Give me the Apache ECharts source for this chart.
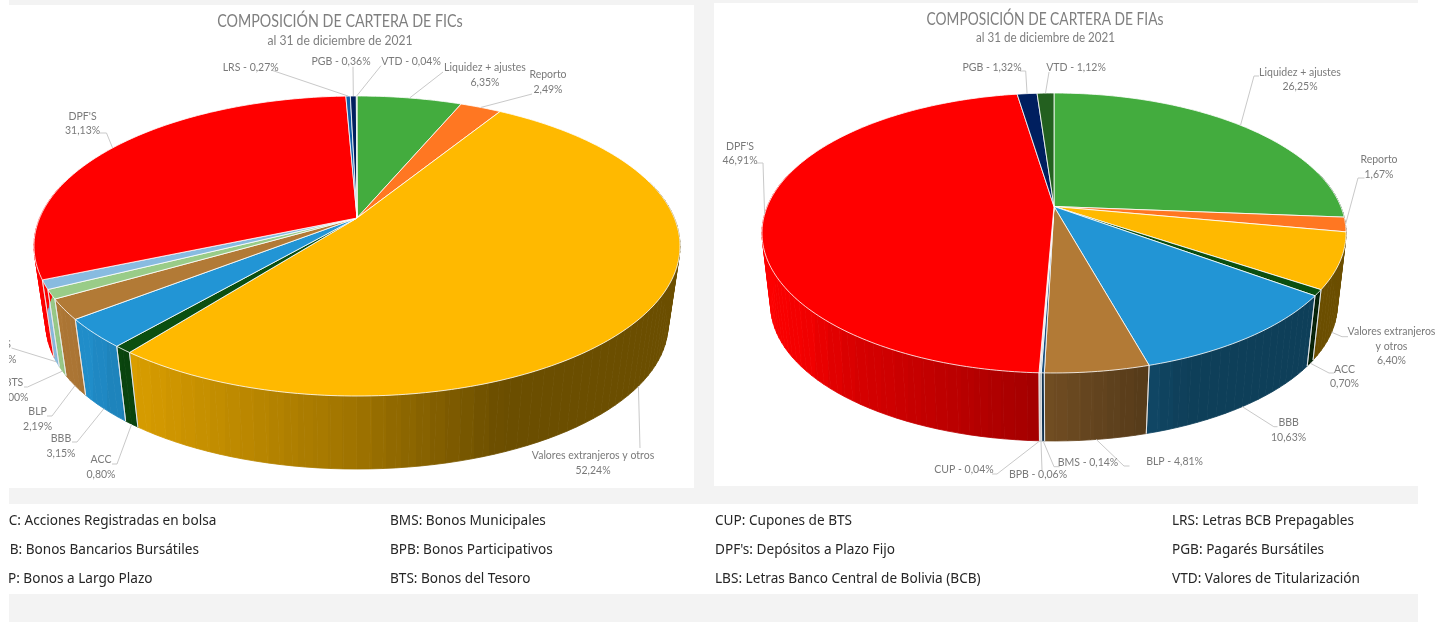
<!DOCTYPE html>
<html><head><meta charset="utf-8">
<style>html,body{margin:0;padding:0;background:#fff}#c{width:1447px;height:622px}</style>
<script src="https://cdn.jsdelivr.net/npm/echarts@6/dist/echarts.min.js"></script>
</head><body><div id="c"></div>
<script>
// ---- data ----
const ficCategories = ['Liquidez + ajustes','Reporto','Valores extranjeros y otros','ACC','BBB','BLP','BTS','LBS',"DPF'S",'LRS','PGB','VTD'];
const ficValues     = [6.35,2.49,52.24,0.80,3.15,2.19,1.00,1.00,31.13,0.27,0.36,0.04];
const fiaCategories = ['Liquidez + ajustes','Reporto','Valores extranjeros y otros','ACC','BBB','BLP','BMS','BPB','CUP',"DPF'S",'PGB','VTD'];
const fiaValues     = [26.25,1.67,6.40,0.70,10.63,4.81,0.14,0.06,0.04,46.91,1.32,1.12];
const glossaryCol1 = ['ACC: Acciones Registradas en bolsa','BBB: Bonos Bancarios Bursátiles','BLP: Bonos a Largo Plazo'];
const glossaryCol2 = ['BMS: Bonos Municipales','BPB: Bonos Participativos','BTS: Bonos del Tesoro'];
const glossaryCol3 = ['CUP: Cupones de BTS',"DPF's: Depósitos a Plazo Fijo",'LBS: Letras Banco Central de Bolivia (BCB)'];
const glossaryCol4 = ['LRS: Letras BCB Prepagables','PGB: Pagarés Bursátiles','VTD: Valores de Titularización'];

// ---- styles and layout ----
const sliceColors = {'Liquidez + ajustes':'#43AC3E','Reporto':'#FF7722','Valores extranjeros y otros':'#FFB900',ACC:'#0B4F10',BBB:'#2295D5',BLP:'#B27A36',BTS:'#99CC88',LBS:'#88BBE0',"DPF'S":'#FF0000',LRS:'#0F5FA8',PGB:'#001F5F',VTD:'#23601F',BMS:'#1B4F7F',BPB:'#8AA8C0',CUP:'#777777'};
const FONT='Lato', TXT='#7a7a7a', LINE='#c9c9c9';
const ficPie = {cx:357,cy:218,f:1700,g:775.6,d:5.357,s:0.963,h:79.6,categories:ficCategories,values:ficValues};
const fiaPie = {cx:1054,cy:206.5,f:1515,g:713,d:5.283,s:0.97,h:73,categories:fiaCategories,values:fiaValues};
// label layout: text centre, first line y, stacked or inline, leader points from text, anchor: rim (top edge) or ring (lower edge)
const ficLabels = {
 'Liquidez + ajustes':{x:485,y:68,pts:[[443,72]],a:'rim'},
 'Reporto':{x:548,y:75,pts:[[532,94]],a:'rim'},
 'Valores extranjeros y otros':{x:593,y:456,pts:[[640,448]],a:'ring'},
 ACC:{x:101,y:460,pts:[[112,464],[117,464]],a:'ring'},
 BBB:{x:61,y:439,pts:[[72,442],[77,442]],a:'ring'},
 BLP:{x:37.6,y:412,pts:[[47,416],[52,416]],a:'ring'},
 BTS:{x:14,y:383,pts:[[24,387],[27.5,387]],a:'ring'},
 LBS:{x:2,y:345,pts:[[11.5,348]],a:'ring'},
 "DPF'S":{x:82.6,y:116.7,pts:[[100,133],[106.5,133]],a:'rim'},
 LRS:{x:250.7,y:67.7,inline:true,pts:[[271,70]],a:'rim'},
 PGB:{x:341,y:61.7,inline:true,pts:[[353,66.7]],a:'rim'},
 VTD:{x:411,y:62,inline:true,pts:[[381,65.7]],a:'rim'}
};
const fiaLabels = {
 'Liquidez + ajustes':{x:1300,y:72.7,pts:[[1259,76],[1254,76]],a:'rim'},
 'Reporto':{x:1379,y:160,pts:[[1364.5,178],[1358,178]],a:'rim'},
 'Valores extranjeros y otros':{x:1391.5,y:332,wrap:['Valores extranjeros','y otros'],pts:[[1348,336.7],[1342,336.7]],a:'ring'},
 ACC:{x:1344.5,y:369.7,pts:[[1334,373],[1329,373]],a:'ring'},
 BBB:{x:1288.6,y:423,pts:[[1277.5,426.7],[1273.8,426.7]],a:'ring'},
 BLP:{x:1174.6,y:462,inline:true,pts:[[1129.5,466],[1124,466]],a:'ring'},
 BMS:{x:1088,y:463,inline:true,pts:[[1059.7,466.7],[1054,466.7]],a:'ring'},
 BPB:{x:1038,y:475,inline:true,pts:[[1042,470]],a:'ring'},
 CUP:{x:964,y:470,inline:true,pts:[[992,474],[997,474]],a:'ring'},
 "DPF'S":{x:740,y:146.7,pts:[[757,163],[763,163]],a:'rim'},
 PGB:{x:992,y:68,inline:true,pts:[[1020,71],[1025.7,71]],a:'rim'},
 VTD:{x:1076,y:68,inline:true,pts:[[1049,72]],a:'rim'}
};
const RAD=Math.PI/180;
function project(p,deg,lower){
  const t=deg*RAD,u=Math.sin(t),v=-Math.cos(t);
  let x=p.f*u/(p.d-v),y=p.g*v/(p.d-v);
  if(lower){x*=p.s;y=p.h+y*p.s;}
  return [p.cx+x,p.cy+y];
}
function sliceRange(p,i){
  const total=p.values.reduce((a,b)=>a+b,0);
  let acc=0;for(let k=0;k<i;k++)acc+=p.values[k];
  return [acc/total*360,(acc+p.values[i])/total*360];
}
const shadeStops=[[-1,1],[-0.85,0.95],[-0.7,0.85],[0,0.62],[0.45,0.42],[1,0.42]];
function shadeFactor(u){
  for(let k=1;k<shadeStops.length;k++){if(u<=shadeStops[k][0]){const a=shadeStops[k-1],b=shadeStops[k];return a[1]+(b[1]-a[1])*(u-a[0])/(b[0]-a[0]);}}
  return 0.42;
}
function shadeColor(hex,f){
  const n=parseInt(hex.slice(1),16);
  return 'rgb('+[(n>>16)&255,(n>>8)&255,n&255].map(c=>Math.round(c*f)).join(',')+')';
}
function sideGradient(p,col){
  const R=p.f/Math.sqrt(p.d*p.d-1),stops=[];
  // stepped stops give the faint vertical banding of the wall
  const B=44;
  for(let k=0;k<B;k++){
    const c=shadeColor(col,shadeFactor(2*(k+0.5)/B-1));
    stops.push({offset:k/B,color:c},{offset:(k+1)/B,color:c});
  }
  return new echarts.graphic.LinearGradient(p.cx-R,0,p.cx+R,0,stops,true);
}
function sideRender(p){return function(params,api){
  const i=api.value(0),[a0,b0]=sliceRange(p,i),col=sliceColors[p.categories[i]],kids=[];
  const lim=105; // degrees either side of the front point of the pie
  const a=Math.max(a0,180-lim),b=Math.min(b0,180+lim);
  if(b>a){
    const n=Math.max(1,Math.ceil((b-a)/2)),fill=sideGradient(p,col);
    for(let k=0;k<n;k++){
      const t0=a+(b-a)*k/n,t1=a+(b-a)*(k+1)/n;
      kids.push({type:'polygon',shape:{points:[project(p,t0),project(p,t1),project(p,t1,true),project(p,t0,true)]},style:{fill:fill,stroke:fill,lineWidth:0.8}});
    }
  }
  [a0,b0].forEach(t=>{
    if(-Math.cos(t*RAD)>1/p.d){
      const A=project(p,t),B=project(p,t,true);
      kids.push({type:'line',z2:5,shape:{x1:A[0],y1:A[1],x2:B[0],y2:B[1]},style:{stroke:'rgba(235,235,235,0.8)',lineWidth:1}});
    }
  });
  return {type:'group',children:kids};
};}
function topRender(p){return function(params,api){
  const i=api.value(0),[a,b]=sliceRange(p,i),pts=[[p.cx,p.cy]];
  const n=Math.max(1,Math.ceil(b-a));
  for(let k=0;k<=n;k++)pts.push(project(p,a+(b-a)*k/n));
  return {type:'polygon',shape:{points:pts},style:{fill:sliceColors[p.categories[i]],stroke:'rgba(255,255,255,0.8)',lineWidth:1,lineJoin:'round'}};
};}
function labelRender(p,layout){return function(params,api){
  const i=api.value(0),name=p.categories[i],val=api.value(1).toFixed(2).replace('.',','),L=layout[name];
  const [a,b]=sliceRange(p,i),anchor=project(p,(a+b)/2,L.a==='ring');
  const kids=[{type:'polyline',shape:{points:L.pts.concat([anchor])},style:{fill:null,stroke:LINE,lineWidth:1}}];
  const lines=L.inline?[name+' - '+val+'%']:(L.wrap||[name]).concat([val+'%']);
  lines.forEach((s,k)=>kids.push({type:'text',x:L.x,y:L.y+k*14.2,style:{text:s,font:'10.5px '+FONT,fill:TXT,align:'center',verticalAlign:'middle'}}));
  return {type:'group',children:kids};
};}
function pieSeries(p,layout,tag){
  const data=p.values.map((v,i)=>[i,v]);
  const base={type:'custom',coordinateSystem:'none',data:data,silent:true,animation:false,clip:false};
  return [
    Object.assign({},base,{name:tag+' lateral',z:2,renderItem:sideRender(p)}),
    Object.assign({},base,{name:tag,z:3,renderItem:topRender(p)}),
    Object.assign({},base,{name:tag+' etiquetas',z:4,renderItem:labelRender(p,layout)})
  ];
}
function rect(x,y,w,h,fill,z){return {type:'rect',shape:{x,y,width:w,height:h},style:{fill},z:z===undefined?-5:z,silent:true};}
function headText(s,x,y,size,sx){return {type:'text',x:x,y:y,scaleX:sx,originX:0,originY:0,z:10,silent:true,style:{text:s,font:size+'px '+FONT,fill:'#7f7f7f',align:'center',verticalAlign:'middle'}};}
const GRAY='#f3f3f3';
const gfx=[
  rect(9,0,1409,622,GRAY),
  rect(9,5,685,483,'#fff'),
  rect(714,3,733,483,'#fff'),
  rect(9,504,1409,90,'#fff'),
  headText('COMPOSICIÓN DE CARTERA DE FICs',340,22,16.5,0.866),
  headText('al 31 de diciembre de 2021',340,41,12.5,0.97),
  headText('COMPOSICIÓN DE CARTERA DE FIAs',1045,20,16.5,0.835),
  headText('al 31 de diciembre de 2021',1045.5,37.7,12.5,0.93)
];
[[glossaryCol1,-8],[glossaryCol2,390],[glossaryCol3,715],[glossaryCol4,1172]].forEach(([col,x])=>{
  col.forEach((s,k)=>gfx.push({type:'text',x:x,y:521+k*29,z:10,silent:true,style:{text:s,font:'13.6px "Noto Sans"',fill:'#262626',verticalAlign:'middle'}}));
});
gfx.push(rect(0,0,9,622,'#fff',50));
const chart=echarts.init(document.getElementById('c'),null,{renderer:'canvas'});
chart.setOption({
  animation:false,
  backgroundColor:'#fff',
  graphic:{elements:gfx},
  series:pieSeries(ficPie,ficLabels,'FICs').concat(pieSeries(fiaPie,fiaLabels,'FIAs'))
});
</script></body></html>
